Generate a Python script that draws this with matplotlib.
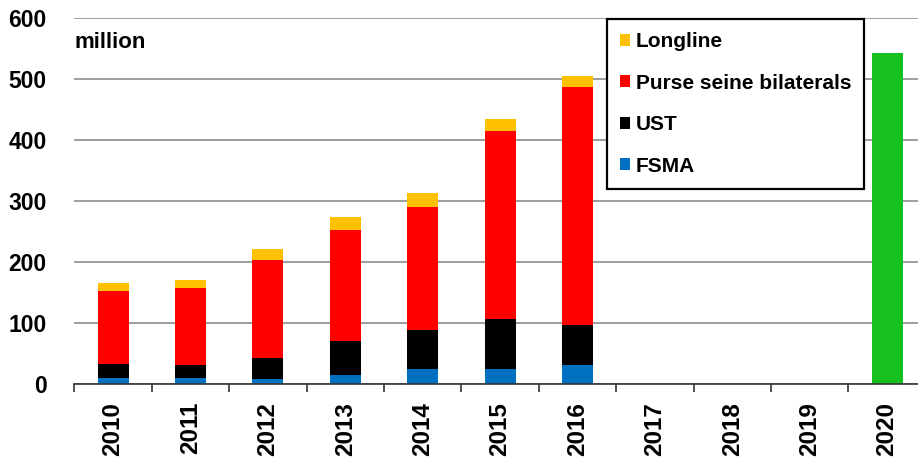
import numpy as np
import matplotlib
matplotlib.use("Agg")
import matplotlib.pyplot as plt

# data (million)
years = ["2010", "2011", "2012", "2013", "2014", "2015", "2016",
         "2017", "2018", "2019", "2020"]
fsma = [10, 10, 8, 14, 25, 25, 31, 0, 0, 0, 0]
ust = [23, 21, 35, 56, 64, 81, 66, 0, 0, 0, 0]
purse_seine = [119, 126, 161, 183, 202, 309, 390, 0, 0, 0, 0]
longline = [13, 14, 18, 21, 22, 20, 19, 0, 0, 0, 0]
target = [0, 0, 0, 0, 0, 0, 0, 0, 0, 0, 543]

series = [
    ("FSMA", fsma, "#0070C0"),
    ("UST", ust, "#000000"),
    ("Purse seine bilaterals", purse_seine, "#FF0000"),
    ("Longline", longline, "#FFC000"),
]

plt.rcParams["font.family"] = ["Liberation Sans", "DejaVu Sans"]
plt.rcParams["font.weight"] = "bold"

fig = plt.figure(figsize=(9.18, 4.62), dpi=100)
ax = fig.add_axes([0.081, 0.169, 0.9275, 0.7915])

x = np.arange(len(years))
width = 0.4
bottom = np.zeros(len(years))
handles = []
for name, vals, color in series:
    vals = np.array(vals, dtype=float)
    b = ax.bar(x, vals, width, bottom=bottom, color=color, label=name,
               linewidth=0, zorder=3)
    handles.append(b)
    bottom += vals

ax.bar(x, target, width, color="#15C01F", linewidth=0, zorder=3)

ax.set_ylim(0, 600)
ax.set_xlim(-0.5, len(years) - 0.5)
ax.set_yticks(range(0, 601, 100))
ax.yaxis.grid(True, color="#8c8c8c", linewidth=1.2, zorder=0)
ax.tick_params(axis="y", length=0, pad=20, labelsize=16.5)

ax.set_xticks(x)
ax.set_xticklabels(years, rotation=90, fontsize=17.5)
ax.set_xticks(np.arange(-0.5, len(years), 1), minor=True)
ax.tick_params(axis="x", which="major", length=0, pad=13)
ax.tick_params(axis="x", which="minor", length=6, width=1.2,
               color="#333333", direction="out")

for side in ["top", "right", "left"]:
    ax.spines[side].set_visible(False)
ax.spines["bottom"].set_color("#333333")
ax.spines["bottom"].set_linewidth(1.2)
ax.spines["bottom"].set_zorder(4)

ax.text(0.0, 551, "million", fontsize=16, fontweight="bold",
        transform=ax.get_yaxis_transform(), va="baseline", ha="left")

leg = fig.legend(handles[::-1], [s[0] for s in series][::-1],
                 loc="upper left", bbox_to_anchor=(0.661, 0.958),
                 borderaxespad=0, fontsize=15, handlelength=0.5,
                 handleheight=0.5, handletextpad=0.27, labelspacing=1.08,
                 borderpad=0.62, fancybox=False, framealpha=1,
                 edgecolor="black")
leg.get_frame().set_linewidth(1.6)
for t in leg.get_texts():
    t.set_fontweight("bold")

fig.savefig("out.png", dpi=100)
